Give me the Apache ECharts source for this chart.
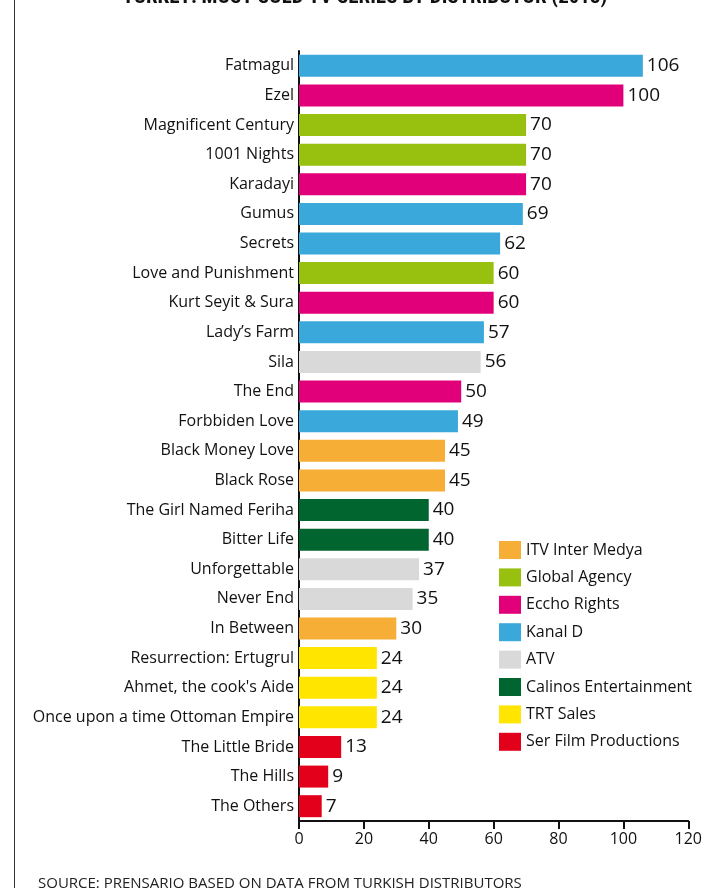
<!DOCTYPE html>
<html>
<head>
<meta charset="utf-8">
<script src="https://cdn.jsdelivr.net/npm/echarts@6/dist/echarts.min.js"></script>
<style>
  html, body { margin: 0; padding: 0; background: #fff; }
  #main { width: 705px; height: 888px; }
</style>
</head>
<body>
<div id="main"></div>
<script>
// 剧集名称（从上到下）
var series_names = ['Fatmagul', 'Ezel', 'Magnificent Century', '1001 Nights', 'Karadayi', 'Gumus', 'Secrets',
  'Love and Punishment', 'Kurt Seyit & Sura', 'Lady’s Farm', 'Sila', 'The End', 'Forbbiden Love',
  'Black Money Love', 'Black Rose', 'The Girl Named Feriha', 'Bitter Life', 'Unforgettable', 'Never End',
  'In Between', 'Resurrection: Ertugrul', "Ahmet, the cook's Aide", 'Once upon a time Ottoman Empire',
  'The Little Bride', 'The Hills', 'The Others']
// 销售国家数
var sold = [106, 100, 70, 70, 70, 69, 62, 60, 60, 57, 56, 50, 49, 45, 45, 40, 40, 37, 35, 30, 24, 24, 24, 13, 9, 7]
// 每部剧对应的发行商
var owner = ['Kanal D', 'Eccho Rights', 'Global Agency', 'Global Agency', 'Eccho Rights', 'Kanal D', 'Kanal D',
  'Global Agency', 'Eccho Rights', 'Kanal D', 'ATV', 'Eccho Rights', 'Kanal D',
  'ITV Inter Medya', 'ITV Inter Medya', 'Calinos Entertainment', 'Calinos Entertainment', 'ATV', 'ATV',
  'ITV Inter Medya', 'TRT Sales', 'TRT Sales', 'TRT Sales',
  'Ser Film Productions', 'Ser Film Productions', 'Ser Film Productions']
var distributors = ['ITV Inter Medya', 'Global Agency', 'Eccho Rights', 'Kanal D', 'ATV',
  'Calinos Entertainment', 'TRT Sales', 'Ser Film Productions']
var colors = ['#f7ae36', '#97c00f', '#e2007a', '#3aa8db', '#d9d9da', '#00652f', '#ffe500', '#e3001b']
var x_ticks = [0, 20, 40, 60, 80, 100, 120]

var font = '"Open Sans", sans-serif'
var chart = echarts.init(document.getElementById('main'))

// 每个发行商一个系列，堆叠保证对齐
var series = distributors.map(function(d, i) {
  return {
    name: d,
    type: 'bar',
    stack: 'all',
    barWidth: 22,
    itemStyle: { color: colors[i] },
    label: {
      show: true,
      position: 'right',
      distance: 4,
      color: '#111',
      fontSize: 19,
      fontFamily: font
    },
    data: sold.map(function(v, k) { return owner[k] === d ? v : '-' })
  }
})

var option = {
  animation: false,
  title: [
    {
      text: 'TURKEY: MOST SOLD TV SERIES BY DISTRIBUTOR (2013)',
      left: 360,
      textAlign: 'center',
      top: -18,
      textStyle: { fontSize: 21, fontWeight: 'bold', color: '#111', fontFamily: '"Liberation Sans Narrow", "Roboto Condensed", sans-serif' }
    },
    {
      text: 'SOURCE: PRENSARIO BASED ON DATA FROM TURKISH DISTRIBUTORS',
      left: 33,
      top: 871,
      textStyle: { fontSize: 15, fontWeight: 'normal', color: '#222', fontFamily: font }
    }
  ],
  graphic: [
    { type: 'line', shape: { x1: 14.5, y1: 0, x2: 14.5, y2: 888 }, style: { stroke: '#333', lineWidth: 1 } }
  ],
  legend: {
    orient: 'vertical',
    left: 494,
    top: 536,
    itemWidth: 22,
    itemHeight: 18,
    itemGap: 9.4,
    icon: 'rect',
    data: distributors,
    textStyle: { fontSize: 16, color: '#111', fontFamily: font }
  },
  grid: { left: 299, right: 12, top: 51, bottom: 67, containLabel: false },
  xAxis: {
    type: 'value',
    min: x_ticks[0],
    max: x_ticks[x_ticks.length - 1],
    interval: 20,
    axisLine: { show: true, lineStyle: { color: '#111', width: 2 } },
    axisTick: { show: true, inside: false, length: 8, lineStyle: { color: '#111', width: 2 } },
    axisLabel: { fontSize: 16, color: '#111', fontFamily: font, margin: 10 },
    splitLine: { show: false }
  },
  yAxis: {
    type: 'category',
    inverse: true,
    data: series_names,
    axisLine: { show: true, lineStyle: { color: '#111', width: 2 } },
    axisTick: { show: false },
    axisLabel: { fontSize: 16, color: '#111', fontFamily: font, margin: 5 }
  },
  series: series
}

chart.setOption(option)
</script>
</body>
</html>
